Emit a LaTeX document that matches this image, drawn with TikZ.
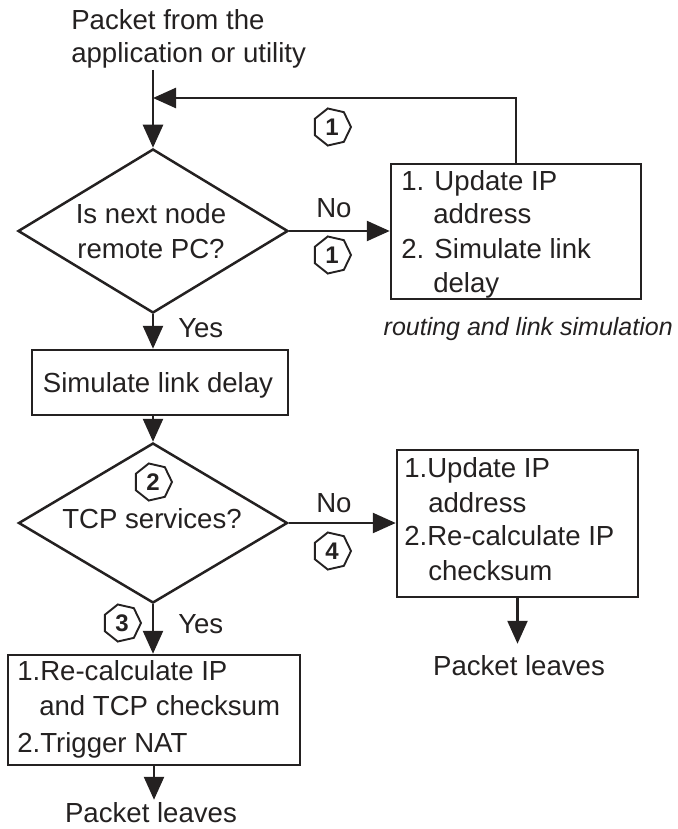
\documentclass[tikz,border=0pt]{standalone}
\usepackage{fontspec}
\setmainfont{Liberation Sans}
\usetikzlibrary{arrows.meta,shapes.geometric}
\definecolor{ink}{rgb}{0.14,0.13,0.13}

\begin{document}
\begin{tikzpicture}[x=1pt,y=-1pt,
  line width=2.5pt, draw=ink, text=ink,
  lbl/.style={inner sep=0pt, font=\fontsize{27.6}{33}\selectfont},
  note/.style={inner sep=0pt, font=\fontsize{25}{31}\selectfont\itshape},
  box/.style={draw, rectangle, inner sep=0pt},
  decision/.style={draw, diamond, inner sep=0pt},
  num/.style={draw, regular polygon, regular polygon sides=7,
    shape border rotate=-90, minimum size=38pt, inner sep=0pt,
    line width=1.9pt, font=\fontsize{24}{24}\selectfont\bfseries},
  arr/.style={-{Triangle[length=23pt,width=20pt]}}]

\useasboundingbox (0,0) rectangle (677,829);

% entry text
\node[lbl, anchor=base west] (src1) at (70,30) {Packet from the};
\node[lbl, anchor=base west] (src) at (70,63) {application or utility};

% first decision
\node[decision, minimum width=270pt, minimum height=164pt] (d1) at (153,231) {};
\node[lbl, anchor=base] (d1a) at (151,223) {Is next node};
\node[lbl, anchor=base] (d1b) at (151,258) {remote PC?};

% routing box
\node[box, minimum width=250pt, minimum height=135pt] (b1) at (516,231.5) {};
\node[lbl, anchor=base west] (b1a) at (400,190) {1. Update IP};
\node[lbl, anchor=base west] (b1b) at (432,223) {address};
\node[lbl, anchor=base west] (b1c) at (400,258) {2. Simulate link};
\node[lbl, anchor=base west] (b1d) at (432,292) {delay};
\node[note, anchor=base east] (rt) at (674,335) {routing and link simulation};

% feedback path
\coordinate (join) at (153,98);
\node[num] (n1a) at (332,127) {1};
\node[num] (n1b) at (332,255) {1};
\node[lbl, anchor=base west] (no1) at (315,217) {No};
\node[lbl, anchor=base west] (yes1) at (177,337) {Yes};

% link delay box
\node[box, minimum width=256pt, minimum height=65pt] (sim) at (160,382.5) {};
\node[lbl, anchor=base] (simt) at (158,392) {Simulate link delay};

% second decision
\node[decision, minimum width=269pt, minimum height=160pt] (d2) at (153,523) {};
\node[num] (n2) at (153,482) {2};
\node[lbl, anchor=base] (d2a) at (152,528) {TCP services?};
\node[lbl, anchor=base west] (no2) at (315,512) {No};
\node[num] (n4) at (332,551) {4};
\node[num] (n3) at (122,623) {3};
\node[lbl, anchor=base west] (yes2) at (177,633) {Yes};

% non-TCP box
\node[box, minimum width=241pt, minimum height=147pt] (b2) at (517.5,523.5) {};
\node[lbl, anchor=base west] (b2a) at (403,477) {1.Update IP};
\node[lbl, anchor=base west] (b2b) at (427,512) {address};
\node[lbl, anchor=base west] (b2c) at (403,545) {2.Re-calculate IP};
\node[lbl, anchor=base west] (b2d) at (427,580) {checksum};
\node[lbl, anchor=base] (out2) at (519,675) {Packet leaves};

% TCP box
\node[box, minimum width=292pt, minimum height=110pt] (b3) at (154,710) {};
\node[lbl, anchor=base west] (b3a) at (16,680) {1.Re-calculate IP};
\node[lbl, anchor=base west] (b3b) at (38,715) {and TCP checksum};
\node[lbl, anchor=base west] (b3c) at (16,752) {2.Trigger NAT};
\node[lbl, anchor=base] (out3) at (151,822) {Packet leaves};

% connectors
\draw[arr] (d1.north |- src.south) -- (d1.north);
\draw[arr] (b1.north) |- (join);
\draw[arr] (d1.east) -- (d1.east -| b1.west);
\draw[arr] (d1.south) -- (d1.south |- sim.north);
\draw[arr] (d2.north |- sim.south) -- (d2.north);
\draw[arr] (d2.east) -- (d2.east -| b2.west);
\draw[arr] (d2.south) -- (d2.south |- b3.north);
\draw[arr, shorten >=10pt] (b2.south) -- (b2.south |- out2.north);
\draw[arr, shorten >=1pt] (b3.south) -- (b3.south |- out3.north);
\end{tikzpicture}
\end{document}
